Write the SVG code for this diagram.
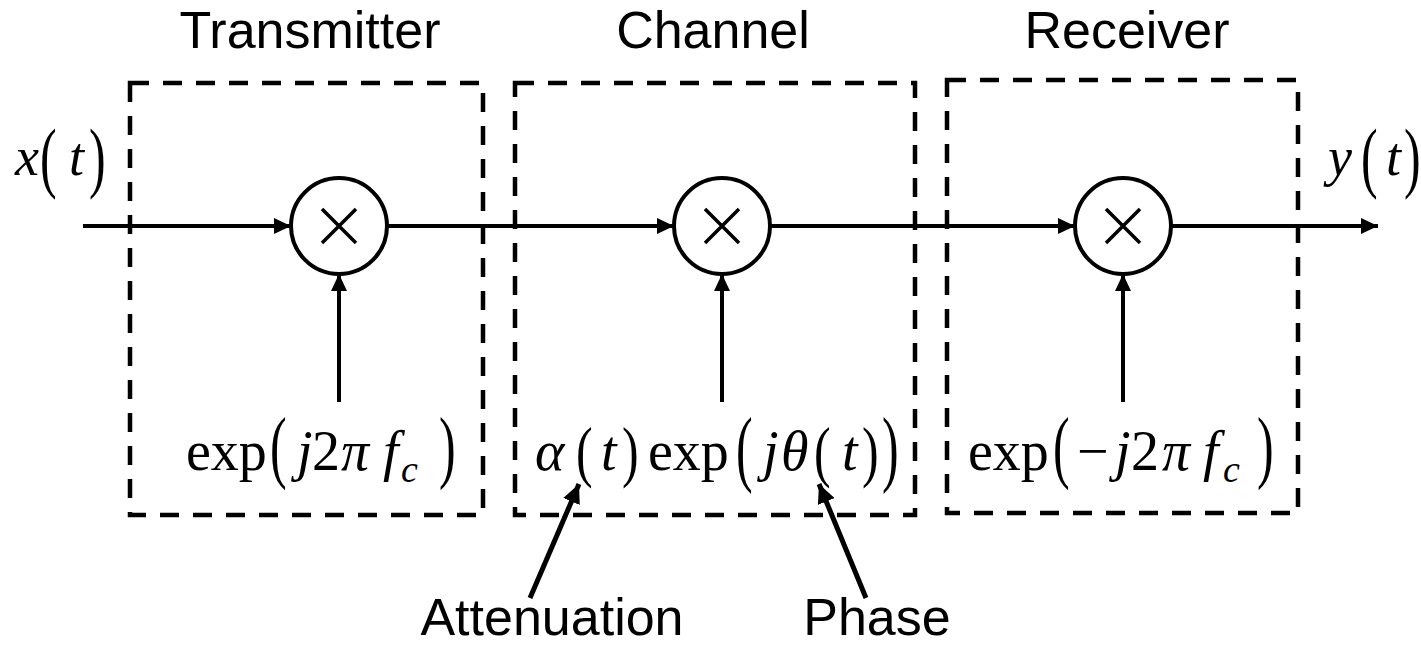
<svg xmlns="http://www.w3.org/2000/svg" width="1421" height="647" viewBox="0 0 1421 647">
<style>
.lbl{font-family:"Liberation Sans",Arial,sans-serif;font-size:52px;fill:#000;text-anchor:middle}
.m{font-family:"Liberation Serif","Times New Roman",serif;font-size:56px;fill:#000}
.p{font-family:"Liberation Serif","Times New Roman",serif;font-size:50px;fill:#000}
.mi{font-family:"Liberation Serif","Times New Roman",serif;font-size:56px;font-style:italic;fill:#000}
.ms{font-family:"Liberation Serif","Times New Roman",serif;font-size:38px;font-style:italic;fill:#000}
.xt{font-family:"Liberation Serif","Times New Roman",serif;font-size:54px;font-style:italic;fill:#000}
.box{fill:none;stroke:#000;stroke-width:4.5;stroke-dasharray:19 14}
.mul{fill:#fff;stroke:#000;stroke-width:4}
.x{stroke:#000;stroke-width:3.5}
.c{stroke:#000;stroke-width:4;fill:none}
.c2{stroke:#000;stroke-width:5;fill:none}
</style>
<defs>
<marker id="ah" markerUnits="userSpaceOnUse" markerWidth="18" markerHeight="16" refX="17" refY="8" orient="auto">
<path d="M0,0 L17,8 L0,16 z" fill="#000"/>
</marker>
<marker id="ah2" markerUnits="userSpaceOnUse" markerWidth="20" markerHeight="18" refX="19" refY="9" orient="auto">
<path d="M0,0 L19,9 L0,18 z" fill="#000"/>
</marker>
</defs>
<g id="transmitter">
<rect class="box" x="130" y="83" width="353" height="432"/>
<text class="lbl" x="310" y="48">Transmitter</text>
</g>
<g id="channel">
<rect class="box" x="515" y="83" width="400" height="432"/>
<text class="lbl" x="713" y="48">Channel</text>
</g>
<g id="receiver">
<rect class="box" x="947" y="80" width="351" height="433"/>
<text class="lbl" x="1127" y="48">Receiver</text>
</g>
<g id="connectors">
<line class="c" x1="83" y1="226" x2="291" y2="226" marker-end="url(#ah)"/>
<line class="c" x1="387" y1="226" x2="674" y2="226" marker-end="url(#ah)"/>
<line class="c" x1="770" y1="226" x2="1075" y2="226" marker-end="url(#ah)"/>
<line class="c" x1="1171" y1="226" x2="1378" y2="226" marker-end="url(#ah)"/>
<line class="c" x1="339" y1="402" x2="339" y2="274" marker-end="url(#ah)"/>
<line class="c" x1="722" y1="402" x2="722" y2="274" marker-end="url(#ah)"/>
<line class="c" x1="1123" y1="402" x2="1123" y2="274" marker-end="url(#ah)"/>
<line class="c2" x1="530" y1="598" x2="579" y2="484" marker-end="url(#ah2)"/>
<line class="c2" x1="866" y1="598" x2="819" y2="484" marker-end="url(#ah2)"/>
</g>
<g id="mult1">
<circle class="mul" cx="339" cy="226" r="48"/>
<path class="x" d="M322,209 L356,243 M356,209 L322,243"/>
</g>
<g id="mult2">
<circle class="mul" cx="722" cy="226" r="48"/>
<path class="x" d="M705,209 L739,243 M739,209 L705,243"/>
</g>
<g id="mult3">
<circle class="mul" cx="1123" cy="226" r="48"/>
<path class="x" d="M1106,209 L1140,243 M1140,209 L1106,243"/>
</g>
<g id="input">
<text class="xt" x="15" y="175">x</text>
<text class="p" transform="translate(40,183) scale(1,1.55)">(</text>
<text class="xt" x="69" y="175">t</text>
<text class="p" transform="translate(89,183) scale(1,1.55)">)</text>
</g>
<g id="output">
<text class="xt" x="1328" y="175">y</text>
<text class="p" transform="translate(1361,183) scale(1,1.55)">(</text>
<text class="xt" x="1386" y="175">t</text>
<text class="p" transform="translate(1404,183) scale(1,1.55)">)</text>
</g>
<g id="tx-expr">
<text class="m" x="186" y="470">exp</text>
<text class="p" transform="translate(270,473) scale(1,1.6)">(</text>
<text class="mi" x="297" y="470">j</text>
<text class="m" x="312" y="470">2</text>
<text class="mi" x="341" y="470">π</text>
<text class="mi" x="383" y="470">f</text>
<text class="ms" x="401" y="482">c</text>
<text class="p" transform="translate(439,473) scale(1,1.6)">)</text>
</g>
<g id="ch-expr">
<text class="mi" x="535" y="470">α</text>
<text class="p" transform="translate(576,474) scale(1,1.35)">(</text>
<text class="mi" x="601" y="470">t</text>
<text class="p" transform="translate(622,474) scale(1,1.35)">)</text>
<text class="m" x="648" y="470">exp</text>
<text class="p" transform="translate(736,476) scale(1,1.7)">(</text>
<text class="mi" x="763" y="470">j</text>
<text class="mi" x="781" y="470">θ</text>
<text class="p" transform="translate(814,474) scale(1,1.35)">(</text>
<text class="mi" x="842" y="470">t</text>
<text class="p" transform="translate(862,474) scale(1,1.35)">)</text>
<text class="p" transform="translate(882,476) scale(1,1.7)">)</text>
</g>
<g id="rx-expr">
<text class="m" x="968" y="470">exp</text>
<text class="p" transform="translate(1053,473) scale(1,1.6)">(</text>
<text class="m" x="1077" y="470">−</text>
<text class="mi" x="1115" y="470">j</text>
<text class="m" x="1131" y="470">2</text>
<text class="mi" x="1162" y="470">π</text>
<text class="mi" x="1203" y="470">f</text>
<text class="ms" x="1223" y="482">c</text>
<text class="p" transform="translate(1257,473) scale(1,1.6)">)</text>
</g>
<g id="annotations">
<text class="lbl" x="552" y="635">Attenuation</text>
<text class="lbl" x="877" y="635">Phase</text>
</g>
</svg>
